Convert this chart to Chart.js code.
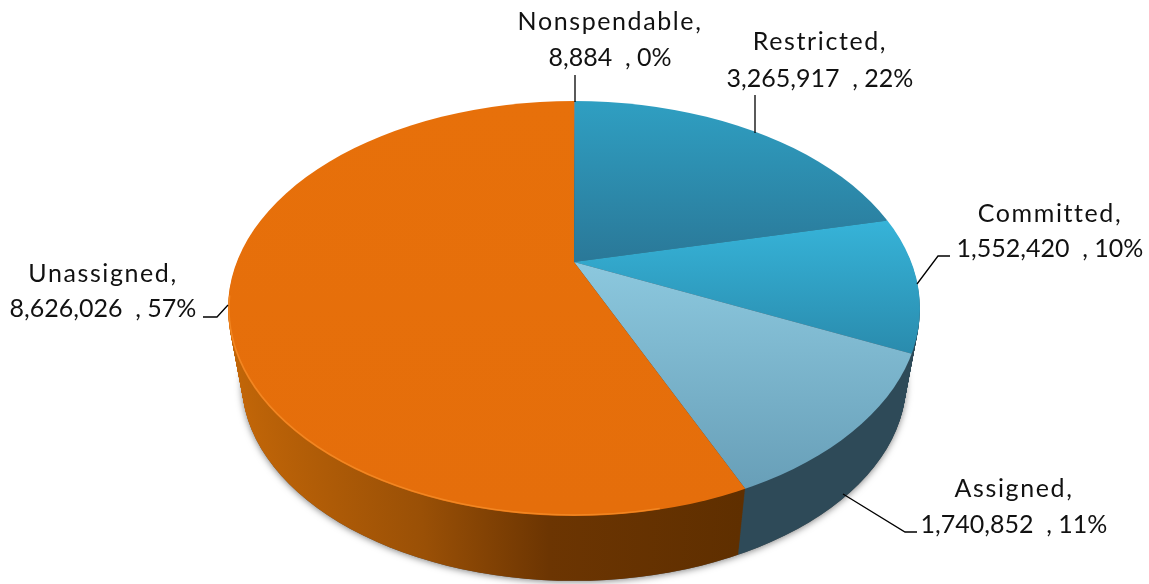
<!DOCTYPE html>
<html>
<head>
<meta charset="utf-8">
<title>Fund balance</title>
<script src="https://cdn.jsdelivr.net/npm/chart.js@4/dist/chart.umd.js"></script>
<style>
html, body { margin: 0; padding: 0; background: #fff; }
canvas { display: block; }
</style>
</head>
<body>
<canvas id="canvas" width="1149" height="584"></canvas>
<script>
// data
var categories = ['Nonspendable', 'Restricted', 'Committed', 'Assigned', 'Unassigned'];
var amounts = [8884, 3265917, 1552420, 1740852, 8626026];
var percents = [0, 22, 10, 11, 57];

// label text centres and baselines, and leader lines, same order as categories
var labelSpots = [[610, 30, 66], [820, 50, 87], [1050, 222, 257], [1014, 497, 533], [103, 282, 317]];
var leaders = [
    [[575, 75], [575, 102]],
    [[755, 95], [755, 133]],
    [[917, 284], [938, 256], [950, 256]],
    [[843, 494], [905, 532], [917, 532]],
    [[203, 317], [217, 317], [228, 305]]
];

// top face colours [upper, lower] and wall colours left to right
var faceColors = [['#7c8c8c', '#7c8c8c'], ['#2f9fc2', '#2a7898'], ['#36b3d8', '#2a8cae'], ['#8cc8de', '#689fb8'], ['#e7700a', '#e56e0b']];
var blueWall = ['#2e4a58', '#2e4a58', '#2e4a58', '#2e4a58'];
var orangeWall = ['#c26608', '#9a5006', '#6c3502', '#5f2f00'];
var wallColors = [blueWall, blueWall, blueWall, blueWall, orangeWall];
var wallStops = [0, 0.37, 0.62, 1];
var faceSpans = [[101, 262], [101, 262], [222, 351], [262, 488], [101, 510]];

// the tilted disc: apex of the slices sits above the middle of the ellipse
var apexX = 574, apexY = 262, rimX = 346, rimY = 207.5, rimDrop = 46.5;
var tilt = 0.6, zoom = 1.6, depth = 75, taper = 0.04;

var canvas = document.getElementById('canvas');
var g = canvas.getContext('2d');
var cx0 = canvas.width / 2, cy0 = canvas.height / 2;

function faceGradients() {
    return faceColors.map(function (c, i) {
        var y1 = cy0 + (faceSpans[i][0] - apexY) / (zoom * tilt);
        var y2 = cy0 + (faceSpans[i][1] - apexY) / (zoom * tilt);
        var grad = g.createLinearGradient(0, y1, 0, y2);
        grad.addColorStop(0, c[0]);
        grad.addColorStop(1, c[1]);
        return grad;
    });
}

function wallGradients() {
    return wallColors.map(function (c) {
        var grad = g.createLinearGradient(cx0 - rimX / zoom, 0, cx0 + (745 - apexX) / zoom, 0);
        c.forEach(function (color, i) {
            grad.addColorStop(wallStops[i], color);
        });
        return grad;
    });
}

// clip to the rim at height t (0 top face, 1 bottom) and move into pie space
function enterDisc(ctx, t) {
    var f = 1 - taper * t;
    ctx.translate(apexX, apexY + depth * t);
    ctx.scale(f, f);
    ctx.beginPath();
    ctx.ellipse(0, rimDrop, rimX, rimY, 0, 0, Math.PI * 2);
    ctx.clip();
    ctx.scale(zoom, zoom * tilt);
    ctx.translate(-cx0, -cy0);
}

var discPlugin = {
    id: 'disc',
    beforeDatasetsDraw: function (chart) {
        var ctx = chart.ctx;
        var arcs = chart.getDatasetMeta(0).data;
        var walls = wallGradients();

        // soft shadow under the wall
        ctx.save();
        ctx.shadowColor = 'rgba(0,0,0,0.5)';
        ctx.shadowBlur = 7;
        ctx.shadowOffsetX = 0;
        ctx.shadowOffsetY = 1;
        ctx.fillStyle = '#555';
        ctx.beginPath();
        ctx.ellipse(apexX, apexY + depth + rimDrop * (1 - taper), rimX * (1 - taper), rimY * (1 - taper), 0, 0, Math.PI * 2);
        ctx.fill();
        ctx.restore();

        // wall: same arcs stacked downward, one pixel at a time
        for (var d = depth; d > 0; d--) {
            ctx.save();
            enterDisc(ctx, d / depth);
            arcs.forEach(function (arc, i) {
                var wall = new Chart.ArcElement({
                    x: arc.x, y: arc.y,
                    startAngle: arc.startAngle, endAngle: arc.endAngle,
                    circumference: arc.circumference,
                    innerRadius: 0, outerRadius: arc.outerRadius,
                    options: { backgroundColor: walls[i], borderWidth: 0, borderRadius: 0, offset: 0, spacing: 0, circular: true }
                });
                wall.draw(ctx);
            });
            ctx.restore();
        }

        ctx.save();
        enterDisc(ctx, 0);
    },
    afterDatasetsDraw: function (chart) {
        var ctx = chart.ctx;
        ctx.restore();

        // lighter bevel along the orange rim
        ctx.save();
        ctx.strokeStyle = 'rgba(250,150,50,0.6)';
        ctx.lineWidth = 1.5;
        ctx.beginPath();
        ctx.ellipse(apexX, apexY + rimDrop, rimX - 1, rimY - 1, 0, Math.PI * 0.42, Math.PI * 1.02);
        ctx.stroke();
        ctx.restore();
    },
    afterDraw: function (chart) {
        var ctx = chart.ctx;
        ctx.save();
        ctx.strokeStyle = '#000';
        ctx.lineWidth = 1.3;
        leaders.forEach(function (line) {
            ctx.beginPath();
            line.forEach(function (p, i) {
                if (i === 0) ctx.moveTo(p[0], p[1]);
                else ctx.lineTo(p[0], p[1]);
            });
            ctx.stroke();
        });
        ctx.fillStyle = '#111';
        ctx.font = '25px Lato';
        ctx.textAlign = 'center';
        ctx.textBaseline = 'alphabetic';
        categories.forEach(function (name, i) {
            var spot = labelSpots[i];
            ctx.letterSpacing = '1.6px';
            ctx.fillText(name + ',', spot[0], spot[1]);
            ctx.letterSpacing = '0px';
            ctx.fillText(amounts[i].toLocaleString('en-US') + '  , ' + percents[i] + '%', spot[0], spot[2]);
        });
        ctx.restore();
    }
};

var myChart = new Chart(g, {
    type: 'pie',
    data: {
        labels: categories,
        datasets: [{
            data: amounts,
            backgroundColor: faceGradients(),
            borderWidth: 0
        }]
    },
    options: {
        responsive: false,
        animation: false,
        events: [],
        layout: { padding: 0 },
        plugins: {
            legend: { display: false },
            tooltip: { enabled: false }
        }
    },
    plugins: [discPlugin]
});
</script>
</body>
</html>
